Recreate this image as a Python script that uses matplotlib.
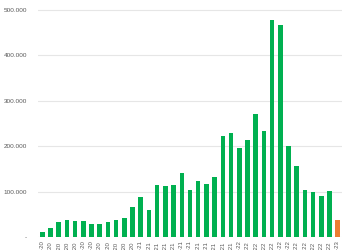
import matplotlib
matplotlib.use("Agg")
import matplotlib.pyplot as plt
from matplotlib.ticker import FixedLocator, FuncFormatter

months = ["jan", "fev", "mar", "abr", "mai", "jun", "jul", "ago", "set", "out", "nov", "dez"]
labels = [f"{m}-{y}" for y in ["20", "21", "22"] for m in months] + ["jan-23"]

values = [11000, 20000, 33000, 38000, 35000, 36000, 29000, 30000, 33000, 38000,
          43000, 66000, 88000, 59000, 116000, 112000, 116000, 142000, 104000, 123000,
          118000, 133000, 223000, 229000, 197000, 214000, 272000, 234000, 478000, 468000,
          201000, 157000, 105000, 99000, 90000, 101000, 38000]

green = "#00B050"
orange = "#ED7D31"
colors = [green] * (len(values) - 1) + [orange]

fig = plt.figure(figsize=(3.5, 2.5), dpi=100)
ax = fig.add_axes([38 / 350, (250 - 237.3) / 250, 304 / 350, (237.3 - 5.5) / 250])

x = list(range(len(values)))
ax.bar(x, values, width=0.55, color=colors, zorder=3)

ax.set_xlim(-0.52, len(values) - 0.48)
ax.set_ylim(0, 510000)
ax.yaxis.set_major_locator(FixedLocator([0, 100000, 200000, 300000, 400000, 500000]))


def fmt(v, pos):
    if v == 0:
        return "-"
    return f"{int(v):,}".replace(",", ".")


ax.yaxis.set_major_formatter(FuncFormatter(fmt))
ax.set_xticks(x)
ax.set_xticklabels(labels, rotation=90, fontsize=4.3, color="#595959",
                   family="Liberation Sans")
for t in ax.get_yticklabels():
    t.set_fontsize(4.6)
    t.set_color("#595959")
    t.set_family("Liberation Sans")

ax.tick_params(axis="both", length=0)
ax.tick_params(axis="y", pad=8)
ax.tick_params(axis="x", pad=3)
ax.grid(axis="y", color="#E6E6E6", linewidth=0.8, zorder=0)
ax.grid(axis="x", visible=False)
for s in ax.spines.values():
    s.set_visible(False)

fig.savefig("out.png", dpi=100)
